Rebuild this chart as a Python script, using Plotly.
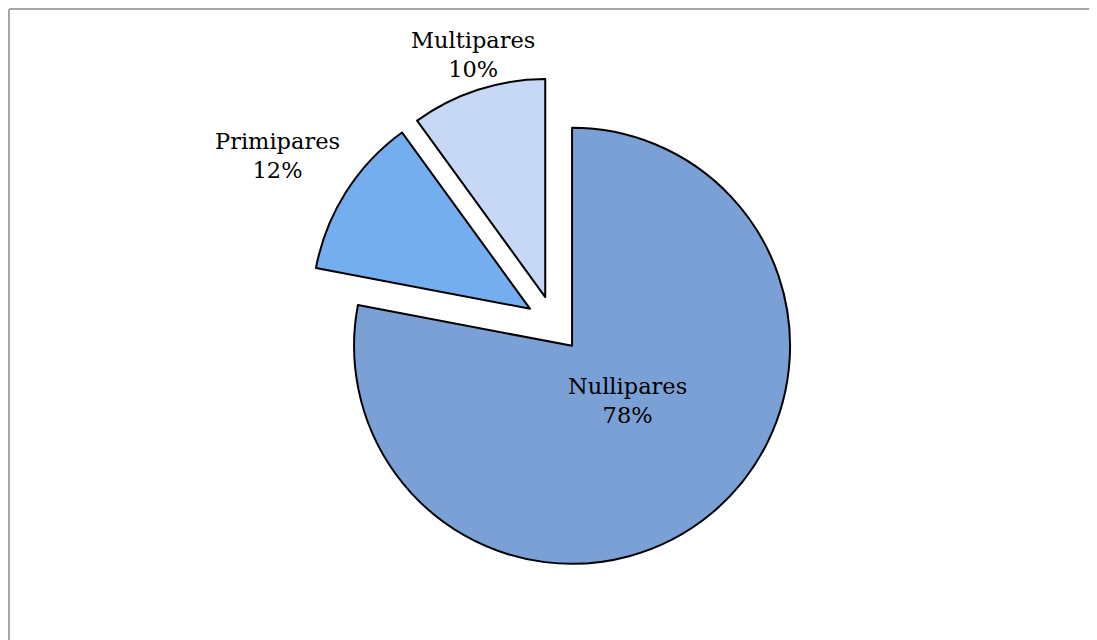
import plotly.graph_objects as go

labels = ["Nullipares", "Primipares", "Multipares"]
values = [78, 12, 10]
percent_text = ["78%", "12%", "10%"]
colors = ["#7aa0d6", "#74aeee", "#c6d8f5"]
pulls = [0.13, 0.13, 0.13]

W, H = 1089, 632  # page body has an 8px margin
# label anchor positions (pixels within figure)
label_px = [(619, 392), (269, 147), (465, 47)]

cx, cy, R = 546, 316, 218
ext = R * (1 + pulls[0])

fig = go.Figure()
fig.add_trace(go.Pie(
    labels=labels,
    values=values,
    sort=False,
    direction="clockwise",
    rotation=0,
    pull=pulls,
    marker=dict(colors=colors, line=dict(color="#000000", width=2)),
    textinfo="none",
    hoverinfo="label+percent",
    showlegend=False,
    domain=dict(x=[(cx - ext) / W, (cx + ext) / W],
                y=[1 - (cy + ext) / H, 1 - (cy - ext) / H]),
))

for lab, pct, (px, py) in zip(labels, percent_text, label_px):
    fig.add_annotation(
        x=px / W, y=1 - py / H, xref="paper", yref="paper",
        text=f"{lab}<br>{pct}", showarrow=False,
        font=dict(family="DejaVu Serif", size=22.5, color="#000000"),
        align="center", xanchor="center", yanchor="middle",
    )

# chart-area border (top and left edges visible)
fig.add_shape(type="line", xref="paper", yref="paper",
              x0=1 / W, x1=1, y0=1 - 1 / H, y1=1 - 1 / H,
              line=dict(color="#a6a6a6", width=2))
fig.add_shape(type="line", xref="paper", yref="paper",
              x0=1 / W, x1=1 / W, y0=0, y1=1 - 1 / H,
              line=dict(color="#a6a6a6", width=2))

fig.update_layout(
    width=W, height=H,
    margin=dict(l=0, r=0, t=0, b=0),
    paper_bgcolor="white", plot_bgcolor="white",
)
fig.write_html("out.html")
